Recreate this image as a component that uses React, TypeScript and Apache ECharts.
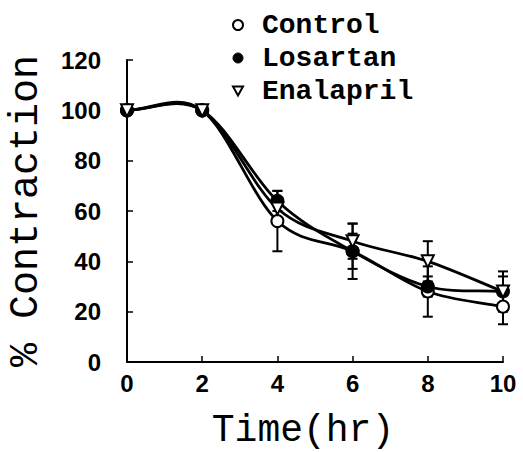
import React, { useEffect, useRef } from "react";
import * as echarts from "echarts";

const times = [0, 2, 4, 6, 8, 10];
const control = [100, 100, 56, 44, 28, 22];
const controlErr = [0, 0, 12, 11, 10, 7];
const losartan = [100, 100, 64, 44, 30, 28];
const losartanErr = [0, 0, 4, 7, 4, 8];
const enalapril = [100, 100, 61, 48, 40, 28];
const enalaprilErr = [0, 0, 4, 7, 8, 6];
const xTicks = [0, 2, 4, 6, 8, 10];
const yTicks = [0, 20, 40, 60, 80, 100, 120];

const seriesNames = ["Control", "Losartan", "Enalapril"];

function errData(vals: number[], errs: number[]) {
  return times
    .map((t, i) => [t, vals[i] - errs[i], vals[i] + errs[i]])
    .filter((_, i) => errs[i] > 0);
}

export default function App() {
  const ref = useRef<HTMLDivElement>(null);
  useEffect(() => {
    if (!ref.current) return;
    const chart = echarts.init(ref.current, undefined, { renderer: "svg" });
    const black = "#000";

    const errSeries = (vals: number[], errs: number[]) => ({
      type: "custom",
      silent: true,
      z: 1,
      renderItem: (params: any, api: any) => {
        const x = api.value(0);
        const lo = api.coord([x, api.value(1)]);
        const hi = api.coord([x, api.value(2)]);
        const w = 5;
        const st = { stroke: black, lineWidth: 2 };
        return {
          type: "group",
          children: [
            { type: "line", shape: { x1: lo[0], y1: lo[1], x2: hi[0], y2: hi[1] }, style: st },
            { type: "line", shape: { x1: lo[0] - w, y1: lo[1], x2: lo[0] + w, y2: lo[1] }, style: st },
            { type: "line", shape: { x1: hi[0] - w, y1: hi[1], x2: hi[0] + w, y2: hi[1] }, style: st },
          ],
        };
      },
      data: errData(vals, errs),
    });

    // Catmull-Rom spline segments through the data points (drawn via the axis scales)
    const curveSeries = (vals: number[]) => ({
      type: "custom",
      silent: true,
      z: 2,
      renderItem: (params: any, api: any) => {
        const i = params.dataIndex;
        const n = times.length;
        if (i >= n - 1) return { type: "group", children: [] };
        const P = times.map((t, k) => api.coord([t, vals[k]]));
        const tan = (k: number) => {
          if (k === 0) return [P[1][0] - P[0][0], P[1][1] - P[0][1]];
          if (k === n - 1) return [P[n - 1][0] - P[n - 2][0], P[n - 1][1] - P[n - 2][1]];
          return [(P[k + 1][0] - P[k - 1][0]) / 2, (P[k + 1][1] - P[k - 1][1]) / 2];
        };
        const m0 = tan(i);
        const m1 = tan(i + 1);
        return {
          type: "bezierCurve",
          shape: {
            x1: P[i][0],
            y1: P[i][1],
            cpx1: P[i][0] + m0[0] / 3,
            cpy1: P[i][1] + m0[1] / 3,
            cpx2: P[i + 1][0] - m1[0] / 3,
            cpy2: P[i + 1][1] - m1[1] / 3,
            x2: P[i + 1][0],
            y2: P[i + 1][1],
          },
          style: { stroke: black, lineWidth: 2.8, fill: "none" },
        };
      },
      data: times.map((t, i) => [t, vals[i]]),
    });

    const markerSeries = (name: string, vals: number[], symbol: string, fill: string, rotate = 0) => ({
      name,
      type: "scatter",
      z: 3,
      data: times.map((t, i) => [t, vals[i]]),
      symbol,
      symbolSize: 12,
      symbolRotate: rotate,
      itemStyle: { color: fill, borderColor: black, borderWidth: 2, opacity: 1 },
    });

    chart.setOption({
      animation: false,
      backgroundColor: "#fff",
      grid: { left: 127, right: 20, top: 60, bottom: 90, outerBoundsMode: "none", containLabel: false },
      legend: {
        orient: "vertical",
        left: 227,
        top: 6,
        itemWidth: 10,
        itemHeight: 10,
        itemGap: 5,
        selectedMode: false,
        textStyle: {
          fontFamily: "Liberation Mono",
          fontWeight: "bold",
          fontSize: 28,
          lineHeight: 28,
          color: black,
          padding: [0, 0, 0, 14],
        },
        data: [
          { name: seriesNames[0], icon: "circle", itemStyle: { color: "#fff", borderColor: black, borderWidth: 2 } },
          { name: seriesNames[1], icon: "circle", itemStyle: { color: black, borderColor: black, borderWidth: 1 } },
          { name: seriesNames[2], icon: "path://M0,0L10,0L5,9Z", itemStyle: { color: "#fff", borderColor: black, borderWidth: 2 } },
        ],
      },
      xAxis: {
        type: "value",
        min: xTicks[0],
        max: xTicks[xTicks.length - 1],
        interval: 2,
        name: "Time(hr)",
        nameLocation: "middle",
        nameGap: 49,
        nameTextStyle: {
          fontFamily: "Liberation Mono",
          fontSize: 38,
          lineHeight: 38,
          color: black,
          padding: [0, 24, 0, 0],
        },
        axisLine: { onZero: false, lineStyle: { color: black, width: 2 } },
        axisTick: { inside: true, length: 6, lineStyle: { color: black, width: 1.5 } },
        axisLabel: {
          color: black,
          fontFamily: "Liberation Sans",
          fontWeight: "bold",
          fontSize: 24,
          margin: 9,
        },
        splitLine: { show: false },
      },
      yAxis: {
        type: "value",
        min: yTicks[0],
        max: yTicks[yTicks.length - 1],
        interval: 20,
        name: "% Contraction",
        nameLocation: "middle",
        nameGap: 81,
        nameRotate: 90,
        nameTextStyle: {
          fontFamily: "Liberation Mono",
          fontSize: 40,
          color: black,
        },
        axisLine: { show: true, onZero: false, lineStyle: { color: black, width: 2 } },
        axisTick: { show: true, inside: true, length: 6, lineStyle: { color: black, width: 1.5 } },
        axisLabel: {
          color: black,
          fontFamily: "Liberation Sans",
          fontWeight: "bold",
          fontSize: 24,
          margin: 26,
        },
        splitLine: { show: false },
      },
      series: [
        errSeries(control, controlErr),
        errSeries(losartan, losartanErr),
        errSeries(enalapril, enalaprilErr),
        curveSeries(control),
        curveSeries(losartan),
        curveSeries(enalapril),
        markerSeries(seriesNames[0], control, "circle", "#fff"),
        markerSeries(seriesNames[1], losartan, "circle", black),
        markerSeries(seriesNames[2], enalapril, "triangle", "#fff", 180),
      ],
    });
    return () => chart.dispose();
  }, []);
  return (
    <div
      ref={ref}
      style={{ position: "fixed", left: 0, top: 0, width: 523, height: 452, background: "#fff" }}
    />
  );
}
